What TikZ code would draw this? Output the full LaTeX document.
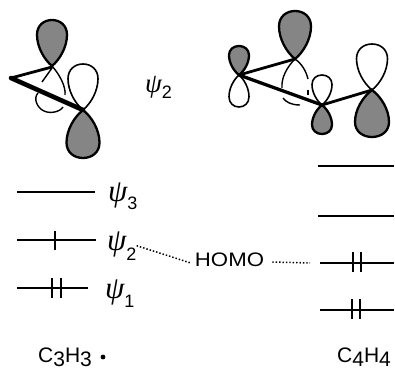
\documentclass[tikz,border=0pt]{standalone}
\usepackage{fontspec}
\setmainfont{Liberation Sans}
\newfontfamily\psifont{Liberation Serif}
\newcommand{\lobeshape}[5]{% style, ax, ay, w, tipy
  \pgfmathsetmacro{\lobeh}{#5-#3}
  \draw[#1, shift={(#2,#3)}, xscale=#4, yscale=\lobeh]
    (0,0) .. controls (-.55,.15) and (-1,.42) .. (-1,.68)
    .. controls (-1,.88) and (-.55,1) .. (0,1)
    .. controls (.55,1) and (1,.88) .. (1,.68)
    .. controls (1,.42) and (.55,.15) .. (0,0) -- cycle;}
\newcommand{\psilabel}[2]{{\psifont\itshape ψ}\raisebox{#2}{\fontsize{18}{18}\selectfont #1}}
\tikzset{
  lobeopen/.style={draw=black,line width=1.6pt,fill=white},
  lobedark/.style={draw=black,line width=2.3pt,fill=black!48},
  bond/.style={line width=2.8pt,line cap=round,line join=round},
  heavybond/.style={line width=4.6pt,line cap=round},
  curveline/.style={line width=1.4pt},
  level/.style={line width=2.6pt},
  spin/.style={line width=1.9pt},
  psitext/.style={font=\fontsize{31}{31}\selectfont,inner sep=0pt,anchor=base west},
  formula/.style={font=\fontsize{21}{21}\selectfont,inner sep=0pt,anchor=base west},
  homolabel/.style={font=\fontsize{19.5}{19.5}\selectfont,inner sep=0pt,xscale=1.14,anchor=center},
  linkdots/.style={line width=1.5pt,dash pattern=on 1.4pt off 2pt}
}
\begin{document}
\begin{tikzpicture}[x=1pt,y=-1pt]
\useasboundingbox (0,0) rectangle (395,371);
% left molecule
\lobeshape{lobeopen}{83}{110}{15}{64}
\lobeshape{lobedark}{52}{66}{15}{20}
\lobeshape{lobedark}{83}{110}{16.5}{158}
\draw[curveline] (52,66) .. controls (60,75) and (66,87) .. (65,95);
\draw[curveline] (63,107) .. controls (60,112) and (50,114) .. (44,111) .. controls (37,108) and (33,98) .. (38,93);
\draw[curveline] (52,68) -- (42,82);
\coordinate (a1) at (11,78);
\coordinate (a2) at (52,67);
\coordinate (a3) at (83,110);
\draw[bond] (a1) -- (a2);
\draw[heavybond] (a1) -- (a3);
\node[psitext,font=\fontsize{27}{27}\selectfont] (psitop) at (145,93) {\psilabel{2}{-6pt}};
% right molecule
\lobeshape{lobedark}{239}{75}{10}{46}
\lobeshape{lobeopen}{239}{75}{10}{107}
\lobeshape{lobedark}{295}{59}{16}{11}
\lobeshape{lobeopen}{322}{105}{10}{75}
\lobeshape{lobedark}{322}{105}{10}{134}
\lobeshape{lobeopen}{372}{90}{15.5}{44}
\lobeshape{lobedark}{372}{90}{17}{137}
\draw[curveline] (295,59) .. controls (302,64) and (306,71) .. (308,79);
\draw[curveline] (295,59) .. controls (287,67) and (281,78) .. (282,88);
\draw[curveline] (308,90) -- (308,95);
\draw[curveline] (283,98) .. controls (286,102) and (291,105) .. (300,105);
\coordinate (b1) at (239,75);
\coordinate (b2) at (295,59);
\coordinate (b3) at (322,105);
\coordinate (b4) at (372,90);
\draw[bond] (b1) -- (b2);
\draw[bond,line width=3.3pt] (b1) -- (b3);
\draw[bond] (b3) -- (b4);
% left levels
\draw[level] (17,192) -- (95,192);
\draw[level] (17,240) -- (96,240);
\draw[spin] (55,231) -- (55,250);
\draw[level] (17,288) -- (88,288);
\draw[spin] (52,278) -- (52,298);
\draw[spin] (61,278) -- (61,298);
\node[psitext] (psi3) at (108,201) {\psilabel{3}{-8pt}};
\node[psitext] (psi2) at (107,250) {\psilabel{2}{-10pt}};
\node[psitext] (psi1) at (105,298) {\psilabel{1}{-9pt}};
\node[formula] (c3h3) at (38,362) {C\raisebox{-4.5pt}{3}H\raisebox{-4.5pt}{3}};
\fill (103,357) circle (2.4) coordinate (radicaldot);
% right levels
\draw[level] (318,166) -- (394,166);
\draw[level] (318,216) -- (394,216);
\coordinate (homoend) at (310,263);
\draw[level] (320,263) -- (394,263);
\draw[spin] (353,252) -- (353,272);
\draw[spin] (361,252) -- (361,272);
\draw[level] (320,310) -- (394,310);
\draw[spin] (352,299) -- (352,319);
\draw[spin] (360,299) -- (360,319);
\node[formula] (c4h4) at (337,362) {C\raisebox{-4.5pt}{4}H\raisebox{-4.5pt}{4}};
% HOMO
\node[homolabel] (homo) at (229.5,260) {HOMO};
\draw[linkdots] (psi2.east) -- ([xshift=-4pt,yshift=-3pt]homo.west);
\draw[linkdots] ([xshift=8pt,yshift=-2pt]homo.east) -- (homoend);
\end{tikzpicture}
\end{document}
